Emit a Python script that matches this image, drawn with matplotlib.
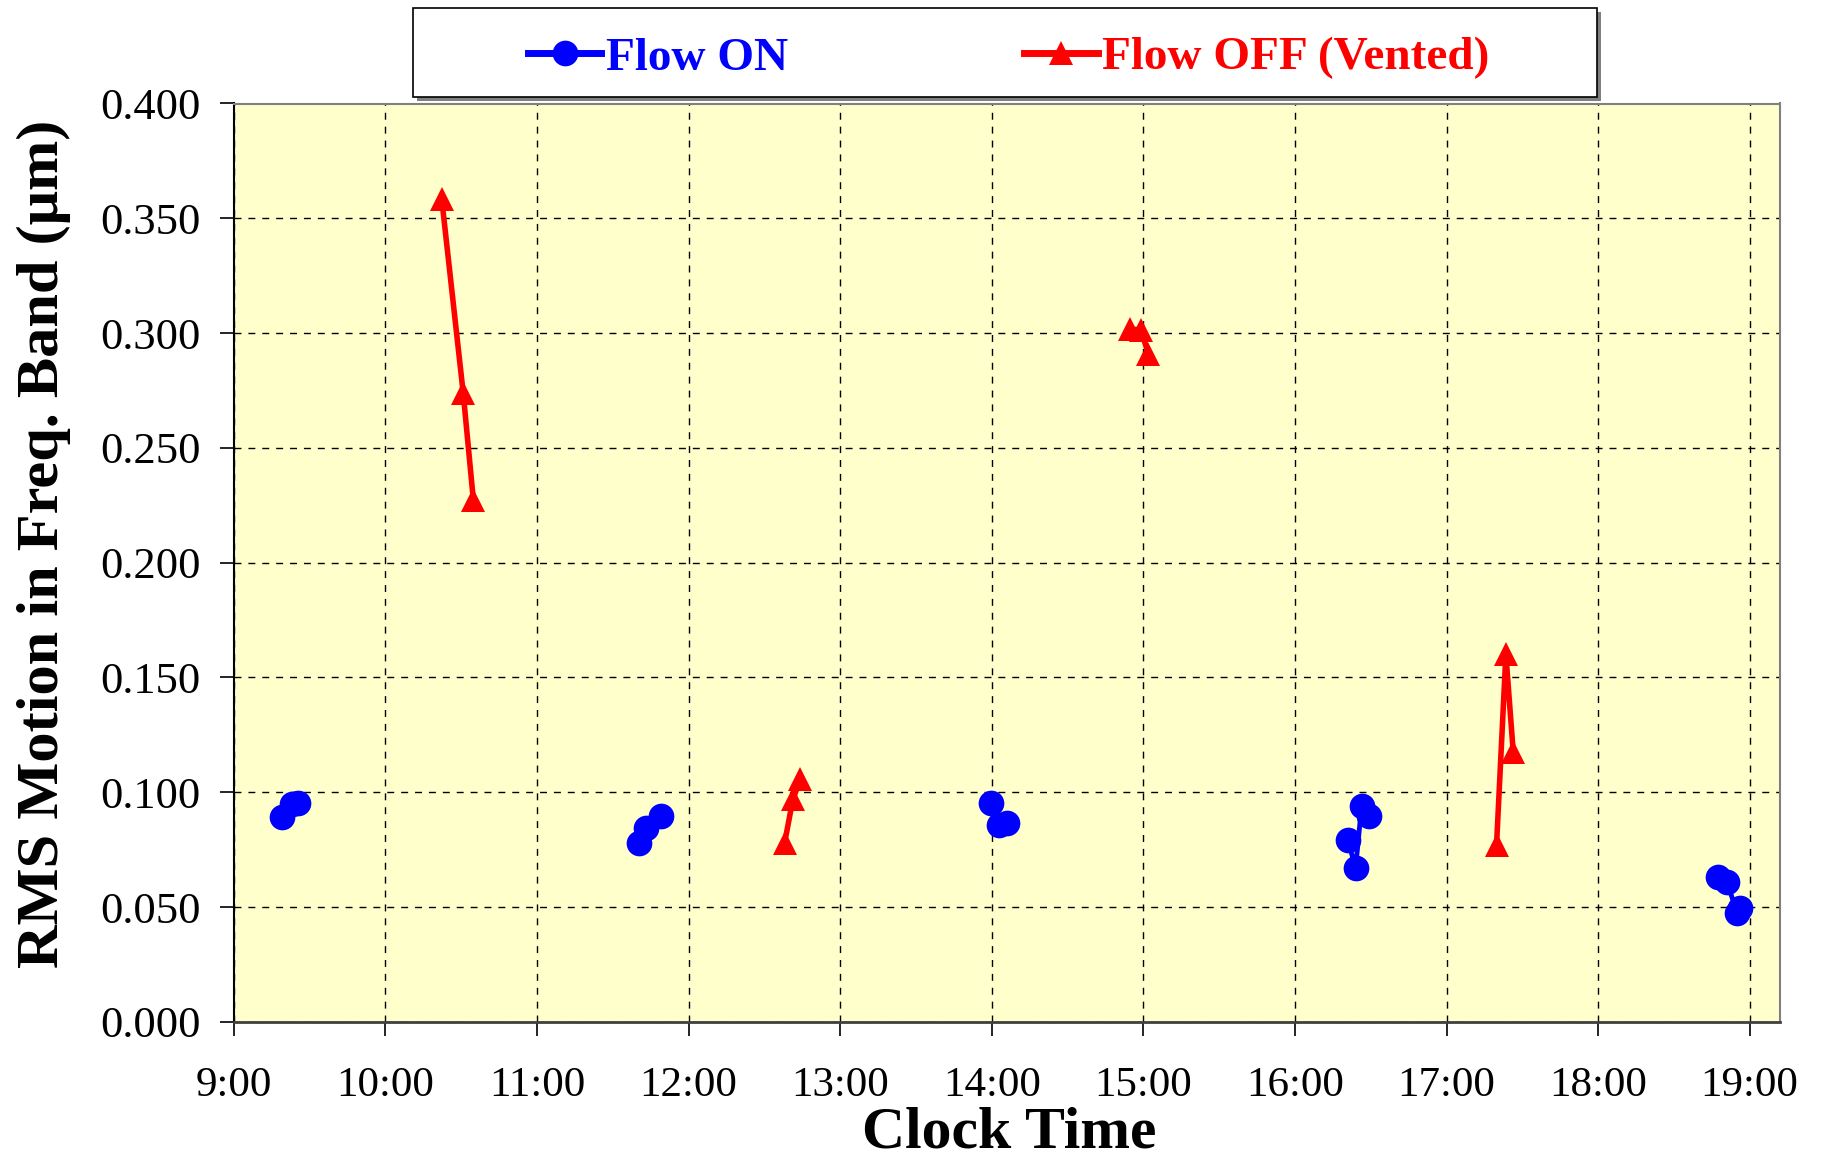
import matplotlib
matplotlib.use("Agg")
import matplotlib.pyplot as plt
from matplotlib.patches import Rectangle
from matplotlib.ticker import FixedLocator, FuncFormatter
import numpy as np

plt.rcParams["font.family"] = ["Liberation Serif", "DejaVu Serif"]

# Measurement sessions (clock time "H:MM"), one list per session
flow_on_times = [
    ["9:19", "9:23", "9:25.5"],
    ["11:40.5", "11:43", "11:49"],
    ["13:59.6", "14:03", "14:06"],
    ["16:21", "16:24", "16:26.4", "16:29.4"],
    ["18:47.5", "18:51", "18:55", "18:56"],
]
flow_on_rms = [
    [0.0894, 0.0948, 0.0952],
    [0.0779, 0.0842, 0.0897],
    [0.0955, 0.0858, 0.0865],
    [0.0792, 0.0669, 0.0940, 0.0898],
    [0.0632, 0.0608, 0.0476, 0.0494],
]

flow_off_times = [
    ["10:22.3", "10:30.8", "10:34.8"],
    ["12:38", "12:41.3", "12:44.3"],
    ["14:54.7", "14:59", "15:02"],
    ["17:19.8", "17:23.5", "17:26.4"],
]
flow_off_rms = [
    [0.3584, 0.2739, 0.2275],
    [0.0778, 0.0970, 0.1057],
    [0.3017, 0.3014, 0.2910],
    [0.0770, 0.1600, 0.1177],
]

hour_ticks = list(range(9, 20))
rms_ticks = [0.0, 0.05, 0.10, 0.15, 0.20, 0.25, 0.30, 0.35, 0.40]

series_labels = ["Flow ON", "Flow OFF (Vented)"]
x_title = "Clock Time"
y_title = "RMS Motion in Freq. Band (\u03bcm)"


def to_hours(stamp):
    h, m = stamp.split(":")
    return int(h) + float(m) / 60.0


def session_arrays(times, values):
    xs, ys = [], []
    for t_list, v_list in zip(times, values):
        xs.extend(to_hours(t) for t in t_list)
        ys.extend(v_list)
        xs.append(np.nan)
        ys.append(np.nan)
    return np.array(xs), np.array(ys)


fig = plt.figure(figsize=(18.24, 11.67), dpi=100)
W, H = 1824.0, 1167.0
left, right, top, bottom = 233.8, 1780.0, 103.5, 1021.8
ax = fig.add_axes([left / W, 1 - bottom / H, (right - left) / W, (bottom - top) / H])
ax.set_facecolor("#FFFFCC")

on_x, on_y = session_arrays(flow_on_times, flow_on_rms)
off_x, off_y = session_arrays(flow_off_times, flow_off_rms)

on_line, = ax.plot(on_x, on_y, color="#0000FF", lw=3.5, marker="o", ms=18.5,
                   markeredgewidth=0, label=series_labels[0], zorder=4)
off_line, = ax.plot(off_x, off_y, color="#FF0000", lw=4, marker="^", ms=17,
                    markeredgewidth=0, label=series_labels[1], zorder=4)

ax.set_xlim(9, 19.2)
ax.set_ylim(0, 0.4)
ax.xaxis.set_major_locator(FixedLocator(hour_ticks))
ax.yaxis.set_major_locator(FixedLocator(rms_ticks))
ax.xaxis.set_major_formatter(FuncFormatter(lambda v, p: f"{int(round(v))}:00"))
ax.yaxis.set_major_formatter(FuncFormatter(lambda v, p: f"{v:.3f}"))

ax.grid(True, color="black", lw=1.0, linestyle=(0, (5, 5)), zorder=1)
ax.set_axisbelow(True)

ax.tick_params(axis="x", direction="out", length=10, width=1.2, colors="black",
               labelsize=31, pad=22)
ax.tick_params(axis="y", direction="out", length=10, width=1.2, colors="black",
               labelsize=32, pad=14)

ax.spines["left"].set_color("black")
ax.spines["left"].set_linewidth(1.5)
ax.spines["bottom"].set_color("#404040")
ax.spines["bottom"].set_linewidth(2)
for s in ("top", "right"):
    ax.spines[s].set_color("#808080")
    ax.spines[s].set_linewidth(1.5)

fig.text(44 / W, 1 - 544 / H, y_title, rotation=90, ha="center", va="center",
         fontsize=43.5, fontweight="bold")
fig.text(1009 / W, 1 - 1134 / H, x_title, ha="center", va="center",
         fontsize=43, fontweight="bold")

# Legend frame with drop shadow
lx0, ly0, lx1, ly1 = 413, 8, 1597, 97
fig.patches.append(Rectangle(((lx0 + 4) / W, 1 - (ly1 + 4) / H), (lx1 - lx0) / W,
                             (ly1 - ly0) / H, transform=fig.transFigure,
                             facecolor="#808080", edgecolor="none", zorder=1))
fig.patches.append(Rectangle((lx0 / W, 1 - ly1 / H), (lx1 - lx0) / W,
                             (ly1 - ly0) / H, transform=fig.transFigure,
                             facecolor="white", edgecolor="black", lw=1.2, zorder=2))

leg = fig.legend(handles=[on_line, off_line], loc="center",
                 bbox_to_anchor=(1009 / W, 1 - 58 / H),
                 ncol=2, frameon=False, handlelength=1.55, handletextpad=0.1,
                 columnspacing=5.0, markerscale=1.0,
                 prop={"size": 34, "weight": "bold"})
for txt, ln in zip(leg.get_texts(), [on_line, off_line]):
    txt.set_color(ln.get_color())
for h in leg.legend_handles:
    h.set_linewidth(5)
leg.set_zorder(3)

fig.savefig("out.png", dpi=100, facecolor="white")
